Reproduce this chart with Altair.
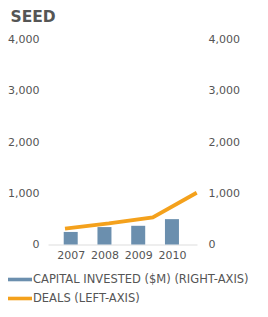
import altair as alt
import pandas as pd

years = [2007, 2008, 2009, 2010]
capital = [245, 340, 365, 495]
deals = [310, 410, 530, 1010]
series = ["CAPITAL INVESTED ($M) (RIGHT-AXIS)", "DEALS (LEFT-AXIS)"]
colors = ["#6b8fae", "#f4a11c"]
y_ticks = [0, 1000, 2000, 3000, 4000]

bars_df = pd.DataFrame({"year": years, "value": capital, "series": series[0]})
line_df = pd.DataFrame({"year": years, "value": deals, "series": series[1]})

FONT = "DejaVu Sans"
color_scale = alt.Scale(domain=series, range=colors)

bars = alt.Chart(bars_df).mark_bar(size=14).encode(
    x=alt.X("year:Q", scale=alt.Scale(domain=[2006.475, 2010.594], nice=False, zero=False),
            axis=alt.Axis(values=years, format="d", title=None, grid=False, ticks=False,
                          domain=True, domainColor="#dddddd", labelPadding=5,
                          labelFontSize=11, labelColor="#555555", labelFont=FONT)),
    y=alt.Y("value:Q", scale=alt.Scale(domain=[0, 4000], nice=False),
            axis=alt.Axis(orient="right", values=y_ticks, format=",d", title=None, grid=False,
                          ticks=False, domain=False, labelPadding=11, labelFontSize=11,
                          labelColor="#555555", labelFont=FONT)),
    color=alt.Color("series:N", scale=color_scale,
                    legend=alt.Legend(title=None, orient="none", legendX=-34, legendY=234,
                                      direction="vertical", labelFont=FONT, labelFontSize=11.5,
                                      labelColor="#555555", labelOffset=7,
                                      symbolType="M-2,-0.3L2,-0.3L2,0.3L-2,0.3Z",
                                      symbolSize=144, symbolStrokeWidth=0, rowPadding=7,
                                      labelLimit=300)),
)

line = alt.Chart(line_df).mark_line(strokeWidth=3.8).encode(
    x=alt.X("year:Q", scale=alt.Scale(domain=[2006.613, 2010.007], nice=False, zero=False),
            axis=None),
    y=alt.Y("value:Q", scale=alt.Scale(domain=[0, 4000], nice=False),
            axis=alt.Axis(orient="left", values=y_ticks, format=",d", title=None, grid=False,
                          ticks=False, domain=False, labelPadding=9, labelFontSize=11,
                          labelColor="#555555", labelFont=FONT)),
    color=alt.Color("series:N", scale=color_scale),
)

chart = alt.layer(bars, line).resolve_scale(x="independent", y="independent").properties(
    width=149, height=205,
    autosize=alt.AutoSizeParams(type="none"),
    padding={"left": 48, "top": 39.5, "right": 71, "bottom": 72.5},
    title=alt.TitleParams("SEED", anchor="start", dx=3, fontSize=15.5, font=FONT,
                          fontWeight="bold", color="#555555", offset=8),
).configure_view(stroke=None)

chart.save("out.html", embed_options={"renderer": "svg", "actions": False})
